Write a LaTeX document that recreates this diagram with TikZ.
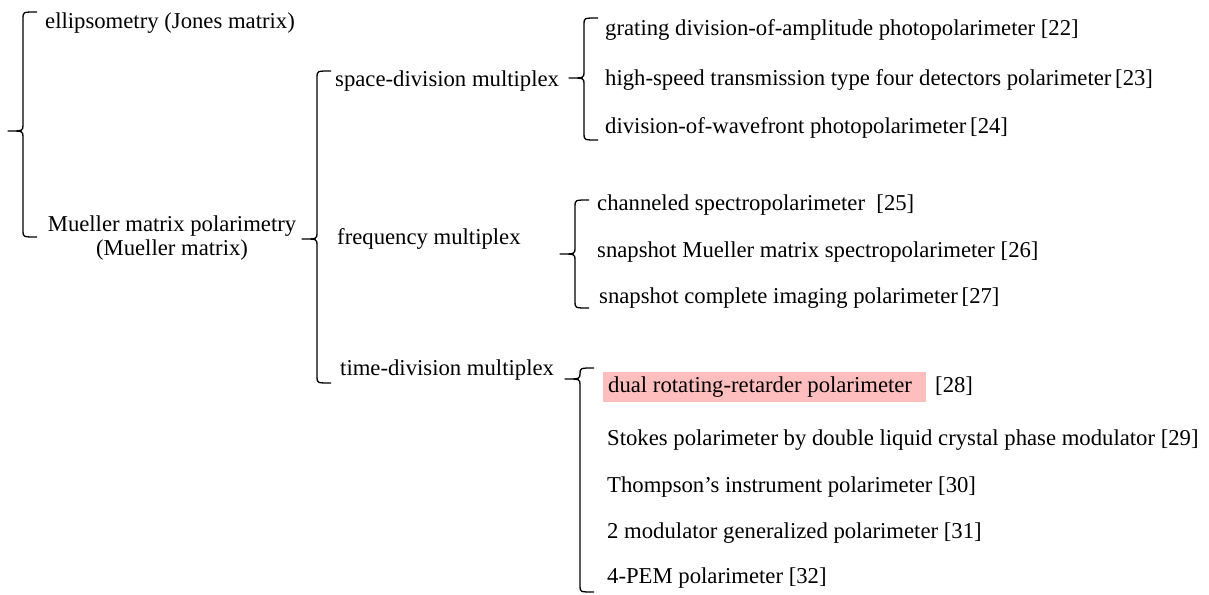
\documentclass[tikz,border=0pt]{standalone}
\usepackage{fontspec}
\setmainfont{Liberation Serif}
\usepackage{tikz}
\usetikzlibrary{calc}

\definecolor{pinkhl}{RGB}{255,190,190}

\tikzset{
  item/.style={anchor=west, inner sep=0pt, font=\fontsize{22.7}{24.5}\selectfont},
  bracket/.style={line width=1.3pt, line join=round}
}

% #1 x of the stem, #2 top, #3 tip, #4 bottom
\newcommand{\curlyleft}[4]{%
  \draw[bracket] (#1+14,#2) .. controls (#1,#2) .. (#1,#2+6) -- (#1,#3-6)
    .. controls (#1,#3) .. (#1-15,#3)
    .. controls (#1,#3) .. (#1,#3+6) -- (#1,#4-6)
    .. controls (#1,#4) .. (#1+14,#4);}

\begin{document}
\begin{tikzpicture}[x=1pt, y=-1pt]

  \useasboundingbox (0,0) rectangle (1209,594);

  % first level
  \node[item] (ellip) at (45,23) {ellipsometry (Jones matrix)};
  \node[item, anchor=center, align=center] (mueller) at (172,238)
    {Mueller matrix polarimetry\\(Mueller matrix)};
  \curlyleft{23}{12}{131}{237}

  % second level
  \node[item] (space) at (335,81) {space-division multiplex};
  \node[item] (freq) at (337,239) {frequency multiplex};
  \node[item] (timed) at (340,370) {time-division multiplex};
  \curlyleft{317}{71}{239}{383}

  % space-division
  \node[item] (g22) at (605,30) {grating division-of-amplitude photopolarimeter [22]};
  \node[item] (h23) at (605,80) {high-speed transmission type four detectors polarimeter\,[23]};
  \node[item] (d24) at (605,128) {division-of-wavefront photopolarimeter\,[24]};
  \curlyleft{584}{18}{78}{140}

  % frequency
  \node[item] (c25) at (597,205) {channeled spectropolarimeter~~[25]};
  \node[item] (s26) at (597,252) {snapshot Mueller matrix spectropolarimeter [26]};
  \node[item] (s27) at (599,298) {snapshot complete imaging polarimeter\,[27]};
  \curlyleft{575}{200}{254}{308}

  % time-division
  \node[item, fill=pinkhl, inner xsep=5pt, inner ysep=0pt, minimum height=30pt]
    (d28) at (603,387) {\makebox[313pt][l]{dual rotating-retarder polarimeter}};
  \node[item] (cite28) at (935,386) {[28]};
  \node[item] (s29) at (607,440) {Stokes polarimeter by double liquid crystal phase modulator [29]};
  \node[item] (t30) at (607,487) {Thompson's instrument polarimeter [30]};
  \node[item] (m31) at (607,533) {2 modulator generalized polarimeter [31]};
  \node[item] (p32) at (607,578) {4-PEM polarimeter [32]};
  \curlyleft{580}{368}{379}{592}

\end{tikzpicture}
\end{document}
